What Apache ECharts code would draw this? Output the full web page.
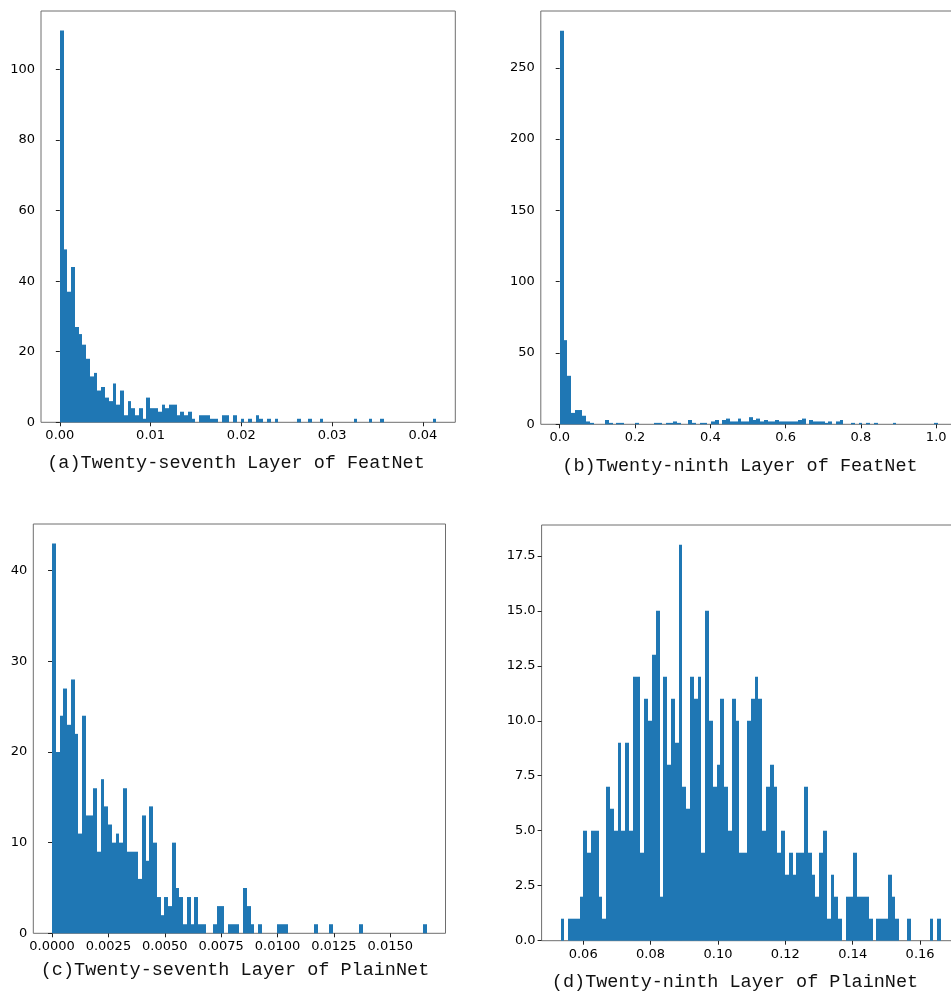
<!DOCTYPE html>
<html>
<head>
<meta charset="utf-8">
<script src="https://cdn.jsdelivr.net/npm/echarts@6/dist/echarts.min.js"></script>
<style>
  html, body { margin: 0; padding: 0; background: #fff; }
  #chart { width: 951px; height: 994px; }
</style>
</head>
<body>
<div id="chart"></div>
<script>
// ---------------- DATA ----------------
// (a) Twenty-seventh Layer of FeatNet : 100-bin histogram
const rangeA = [0.0, 0.0415];
const countsA = [
  111,49,37,44,27,25,22,18,13,14,
  9,10,7,6,11,5,9,2,6,4,
  2,4,1,7,4,4,3,5,4,5,
  5,2,3,2,3,1,0,2,2,2,
  1,1,0,2,2,0,2,0,1,0,
  1,0,2,1,0,1,0,1,0,0,
  0,0,0,1,0,0,1,0,0,1,
  0,0,0,0,0,0,0,0,1,0,
  0,0,1,0,0,1,0,0,0,0,
  0,0,0,0,0,0,0,0,0,1
];
const xTicksA = [0.00, 0.01, 0.02, 0.03, 0.04];
const yTicksA = [0, 20, 40, 60, 80, 100];

// (b) Twenty-ninth Layer of FeatNet
const rangeB = [0.0, 1.005];
const countsB = [
  276,59,34,8,10,10,6,2,1,0,
  0,0,3,1,0,1,1,0,0,0,
  1,0,0,0,0,1,1,0,1,1,
  2,1,0,0,3,1,0,1,1,0,
  2,3,0,3,4,2,2,4,2,2,
  5,3,4,2,3,2,2,3,2,2,
  2,2,2,3,4,0,3,2,2,2,
  1,2,0,2,3,0,0,1,0,1,
  0,1,0,1,0,0,0,0,1,0,
  0,0,0,0,0,0,0,0,0,1
];
const xTicksB = [0.0, 0.2, 0.4, 0.6, 0.8, 1.0];
const yTicksB = [0, 50, 100, 150, 200, 250];

// (c) Twenty-seventh Layer of PlainNet
const rangeC = [0.0, 0.01662];
const countsC = [
  43,20,24,27,23,28,22,11,24,13,
  13,16,9,17,14,12,10,11,10,16,
  9,9,9,6,13,8,14,10,4,2,
  4,3,10,5,4,1,4,1,4,1,
  1,0,0,1,3,3,0,1,1,1,
  0,5,3,1,0,1,0,0,0,0,
  1,1,1,0,0,0,0,0,0,0,
  1,0,0,0,1,0,0,0,0,0,
  0,0,1,0,0,0,0,0,0,0,
  0,0,0,0,0,0,0,0,0,1
];
const xTicksC = [0.0000, 0.0025, 0.0050, 0.0075, 0.0100, 0.0125, 0.0150];
const yTicksC = [0, 10, 20, 30, 40];

// (d) Twenty-ninth Layer of PlainNet
const rangeD = [0.0533, 0.1662];
const countsD = [
  1,0,1,1,1,2,5,4,5,5,
  2,1,7,6,5,9,5,9,5,12,
  12,4,11,10,13,15,2,12,8,11,
  9,18,7,6,12,11,12,4,15,10,
  7,8,11,7,5,11,10,4,4,10,
  11,12,11,5,7,8,7,4,5,3,
  4,3,4,4,7,4,3,2,4,5,
  1,3,2,1,0,2,2,4,2,2,
  2,1,0,1,1,1,3,2,1,0,
  0,1,0,0,0,0,0,1,0,1
];
const xTicksD = [0.06, 0.08, 0.10, 0.12, 0.14, 0.16];
const yTicksD = [0.0, 2.5, 5.0, 7.5, 10.0, 12.5, 15.0, 17.5];

const captions = [
  '(a)Twenty-seventh Layer of FeatNet',
  '(b)Twenty-ninth Layer of FeatNet',
  '(c)Twenty-seventh Layer of PlainNet',
  '(d)Twenty-ninth Layer of PlainNet'
];

// ---------------- BUILD ----------------
const BAR = '#1f77b4';
const SPINE = '#6e6e6e';
const TICKFONT = { fontSize: 13, color: '#000', fontFamily: 'DejaVu Sans' };
const CAPFONT = '18.5px "Liberation Mono"';

function bins(range, counts) {
  const n = counts.length, w = (range[1] - range[0]) / n;
  const out = [];
  for (let i = 0; i < n; i++) {
    if (counts[i] > 0) out.push([range[0] + i * w, range[0] + (i + 1) * w, counts[i]]);
  }
  return out;
}
function padRange(range) {
  const m = (range[1] - range[0]) * 0.05;
  return [range[0] - m, range[1] + m];
}
function xAxis(gi, range, ticks, dec) {
  const r = padRange(range);
  return {
    type: 'value', gridIndex: gi, min: r[0], max: r[1],
    splitLine: { show: false }, axisLine: { show: false },
    axisTick: { show: true, length: 4, lineStyle: { color: '#222' }, customValues: ticks },
    axisLabel: Object.assign({ customValues: ticks, margin: 7, formatter: v => v.toFixed(dec) }, TICKFONT)
  };
}
function yAxis(gi, counts, ticks, dec) {
  return {
    type: 'value', gridIndex: gi, min: 0, max: Math.max(...counts) * 1.05,
    splitLine: { show: false }, axisLine: { show: false },
    axisTick: { show: true, length: 4, lineStyle: { color: '#222' }, customValues: ticks },
    axisLabel: Object.assign({ customValues: ticks, margin: 6, formatter: v => v.toFixed(dec) }, TICKFONT)
  };
}
function renderItem(params, api) {
  const p0 = api.coord([api.value(0), api.value(2)]);
  const p1 = api.coord([api.value(1), 0]);
  const x0 = Math.round(p0[0]), x1 = Math.round(p1[0]);
  return {
    type: 'rect',
    shape: { x: x0, y: p0[1], width: Math.max(1, x1 - x0), height: p1[1] - p0[1] },
    style: { fill: BAR }
  };
}
function series(gi, range, counts) {
  return {
    type: 'custom', xAxisIndex: gi, yAxisIndex: gi,
    renderItem: renderItem, encode: { x: [0, 1], y: 2 },
    data: bins(range, counts), silent: true
  };
}
const gridBase = { show: true, borderColor: SPINE, borderWidth: 1, backgroundColor: 'transparent',
  containLabel: false, outerBoundsMode: 'none' };

const option = {
  animation: false,
  backgroundColor: '#ffffff',
  grid: [
    Object.assign({ left: 41, top: 11, width: 414.3, height: 411.3 }, gridBase),
    Object.assign({ left: 540.8, top: 11, width: 416.2, height: 413.3 }, gridBase),
    Object.assign({ left: 33.3, top: 524, width: 412.2, height: 409.3 }, gridBase),
    Object.assign({ left: 541.6, top: 525, width: 418.4, height: 415.7 }, gridBase)
  ],
  xAxis: [
    xAxis(0, rangeA, xTicksA, 2),
    xAxis(1, rangeB, xTicksB, 1),
    xAxis(2, rangeC, xTicksC, 4),
    xAxis(3, rangeD, xTicksD, 2)
  ],
  yAxis: [
    yAxis(0, countsA, yTicksA, 0),
    yAxis(1, countsB, yTicksB, 0),
    yAxis(2, countsC, yTicksC, 0),
    yAxis(3, countsD, yTicksD, 1)
  ],
  series: [
    series(0, rangeA, countsA),
    series(1, rangeB, countsB),
    series(2, rangeC, countsC),
    series(3, rangeD, countsD)
  ],
  graphic: [
    { type: 'text', x: 236, y: 463, style: { text: captions[0], font: CAPFONT, fill: '#111', align: 'center', verticalAlign: 'middle' } },
    { type: 'text', x: 740, y: 466, style: { text: captions[1], font: CAPFONT, fill: '#111', align: 'center', verticalAlign: 'middle' } },
    { type: 'text', x: 235, y: 970, style: { text: captions[2], font: CAPFONT, fill: '#111', align: 'center', verticalAlign: 'middle' } },
    { type: 'text', x: 735, y: 982, style: { text: captions[3], font: CAPFONT, fill: '#111', align: 'center', verticalAlign: 'middle' } }
  ]
};

const chart = echarts.init(document.getElementById('chart'), null, { renderer: 'canvas' });
chart.setOption(option);
</script>
</body>
</html>
